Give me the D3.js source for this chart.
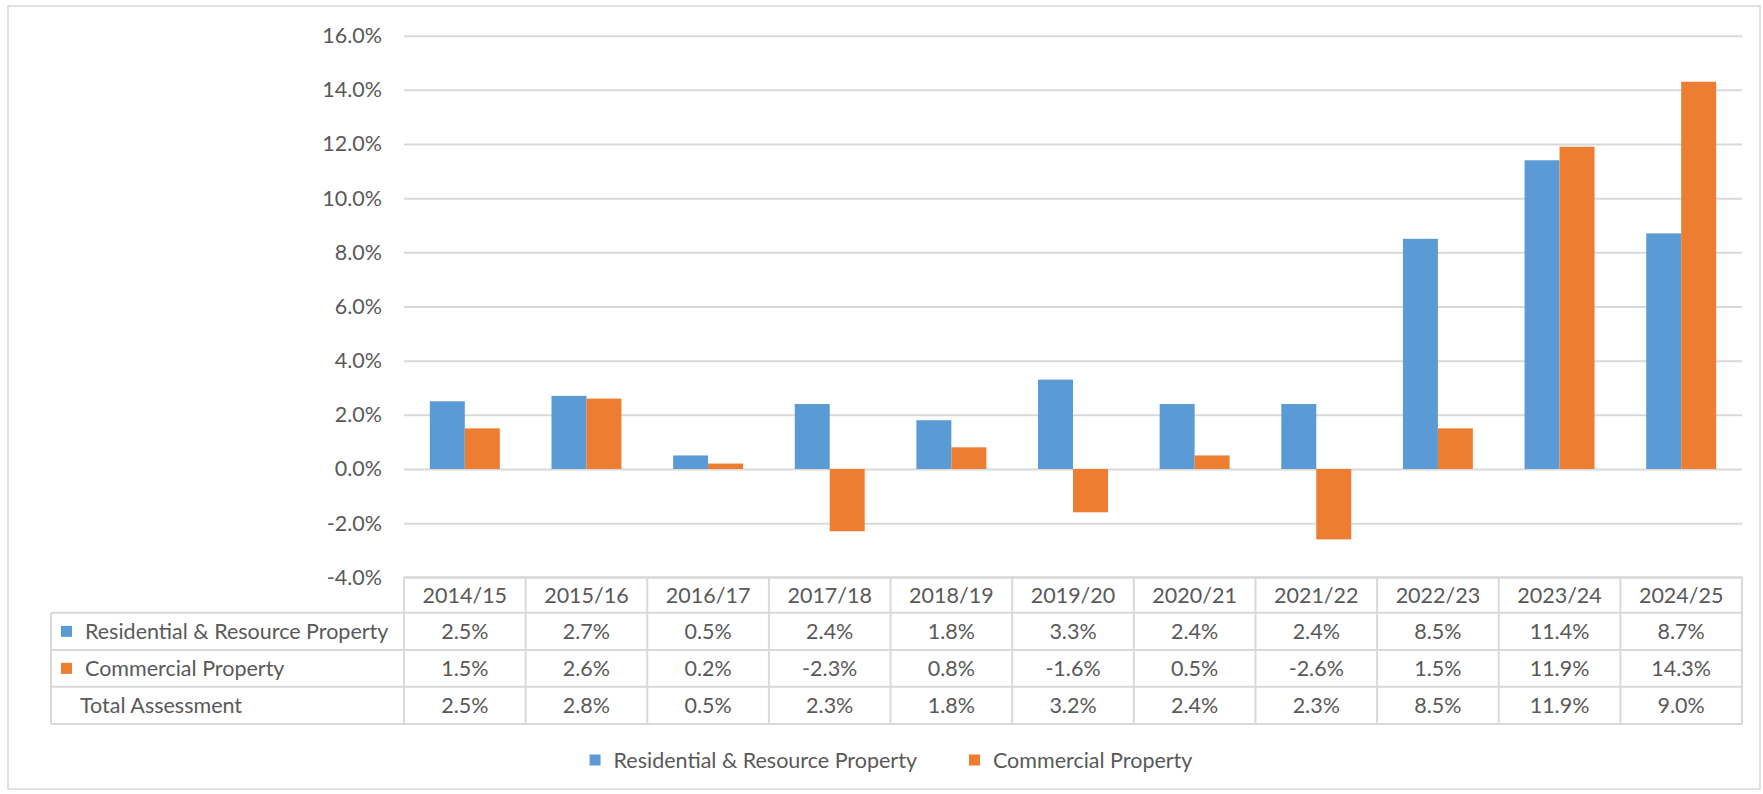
<!DOCTYPE html>
<html>
<head>
<meta charset="utf-8">
<script src="https://cdn.jsdelivr.net/npm/d3@7"></script>
<style>
  body { margin: 0; background: #fff; }
  text { font-family: Lato, "Open Sans", sans-serif; fill: #595959; }
</style>
</head>
<body>
<svg id="canvas"></svg>
<script>
let years = ["2014/15", "2015/16", "2016/17", "2017/18", "2018/19", "2019/20", "2020/21", "2021/22", "2022/23", "2023/24", "2024/25"];
let residential = [2.5, 2.7, 0.5, 2.4, 1.8, 3.3, 2.4, 2.4, 8.5, 11.4, 8.7];
let commercial = [1.5, 2.6, 0.2, -2.3, 0.8, -1.6, 0.5, -2.6, 1.5, 11.9, 14.3];
let total = [2.5, 2.8, 0.5, 2.3, 1.8, 3.2, 2.4, 2.3, 8.5, 11.9, 9.0];
let yTicks = [-4, -2, 0, 2, 4, 6, 8, 10, 12, 14, 16];
let seriesNames = ["Residential & Resource Property", "Commercial Property", "Total Assessment"];
let colors = ["#5B9BD5", "#ED7D31"];

let width = 1763;
let height = 794;
let plotLeft = 404;
let plotRight = 1742;
let plotTop = 35.7;
let plotBottom = 577.3;
let tableLeft = 51;
let rowLines = [577.3, 612.7, 650, 686.7, 724];
let gridColor = "#d9d9d9";
let fontSize = 21.5;

let canvas = d3.select("#canvas").attr("width", width).attr("height", height);

// chart border
canvas.append("rect")
  .attr("x", 8).attr("y", 6)
  .attr("width", 1752).attr("height", 783)
  .attr("fill", "none").attr("stroke", gridColor).attr("stroke-width", 1.5);

let xScale = d3.scaleBand().domain(years).range([plotLeft, plotRight]).padding(0);
let yScale = d3.scaleLinear().domain([-4, 16]).range([plotBottom, plotTop]);
let groupW = xScale.bandwidth() * 0.575;
let xSub = d3.scaleBand().domain([0, 1]).range([0, groupW]);

// y axis with gridlines
let yAxis = d3.axisLeft(yScale)
  .tickValues(yTicks)
  .tickSize(-(plotRight - plotLeft))
  .tickPadding(22)
  .tickFormat((d) => d.toFixed(1) + "%");

let yg = canvas.append("g")
  .attr("id", "y-axis")
  .attr("transform", "translate(" + plotLeft + ", 0)")
  .call(yAxis);
yg.select(".domain").remove();
yg.selectAll("line").attr("stroke", gridColor).attr("stroke-width", 2);
yg.selectAll("text").style("font-size", fontSize + "px").attr("fill", "#595959");

// bars
let seriesVals = [residential, commercial];
seriesVals.forEach((vals, s) => {
  canvas.append("g")
    .selectAll("rect")
    .data(vals)
    .enter()
    .append("rect")
    .attr("x", (d, i) => xScale(years[i]) + (xScale.bandwidth() - groupW) / 2 + xSub(s))
    .attr("width", xSub.bandwidth())
    .attr("y", (d) => yScale(Math.max(0, d)))
    .attr("height", (d) => Math.abs(yScale(d) - yScale(0)))
    .attr("fill", colors[s]);
});

// data table
let table = canvas.append("g").attr("id", "table");
rowLines.forEach((y, i) => {
  table.append("line")
    .attr("x1", i === 0 ? plotLeft : tableLeft).attr("x2", plotRight)
    .attr("y1", y).attr("y2", y)
    .attr("stroke", gridColor).attr("stroke-width", 2);
});
table.append("line")
  .attr("x1", tableLeft).attr("x2", tableLeft)
  .attr("y1", rowLines[1]).attr("y2", rowLines[4])
  .attr("stroke", gridColor).attr("stroke-width", 2);
years.concat(["end"]).forEach((yr, i) => {
  let x = i < years.length ? xScale(yr) : plotRight;
  table.append("line")
    .attr("x1", x).attr("x2", x)
    .attr("y1", rowLines[0]).attr("y2", rowLines[4])
    .attr("stroke", gridColor).attr("stroke-width", 2);
});

let rowMid = (r) => (rowLines[r] + rowLines[r + 1]) / 2;

table.selectAll(".hdr")
  .data(years)
  .enter()
  .append("text")
  .attr("class", "hdr")
  .attr("x", (d) => xScale(d) + xScale.bandwidth() / 2)
  .attr("y", rowMid(0))
  .attr("dy", "0.35em")
  .attr("text-anchor", "middle")
  .style("font-size", fontSize + "px")
  .text((d) => d);

[residential, commercial, total].forEach((vals, r) => {
  table.append("g")
    .selectAll("text")
    .data(vals)
    .enter()
    .append("text")
    .attr("x", (d, i) => xScale(years[i]) + xScale.bandwidth() / 2)
    .attr("y", rowMid(r + 1))
    .attr("dy", "0.35em")
    .attr("text-anchor", "middle")
    .style("font-size", fontSize + "px")
    .text((d) => d.toFixed(1) + "%");

  if (r < 2) {
    table.append("rect")
      .attr("x", 61).attr("y", rowMid(r + 1) - 5.5)
      .attr("width", 11).attr("height", 11)
      .attr("fill", colors[r]);
  }
  table.append("text")
    .attr("x", r < 2 ? 85 : 80)
    .attr("y", rowMid(r + 1))
    .attr("dy", "0.35em")
    .style("font-size", fontSize + "px")
    .text(seriesNames[r]);
});

// legend
let legend = canvas.append("g").attr("id", "legend");
let legendY = 760;
let items = legend.selectAll("g")
  .data([0, 1])
  .enter()
  .append("g");
items.append("rect")
  .attr("width", 11).attr("height", 11)
  .attr("y", legendY - 5.5)
  .attr("fill", (d) => colors[d]);
items.append("text")
  .attr("x", 24)
  .attr("y", legendY)
  .attr("dy", "0.35em")
  .style("font-size", fontSize + "px")
  .text((d) => seriesNames[d]);

let widths = [];
items.each(function () { widths.push(this.getBBox().width); });
let gap = 52;
let totalW = widths[0] + gap + widths[1];
let startX = 891 - totalW / 2;
items.attr("transform", (d) => "translate(" + (d === 0 ? startX : startX + widths[0] + gap) + ", 0)");
</script>
</body>
</html>
